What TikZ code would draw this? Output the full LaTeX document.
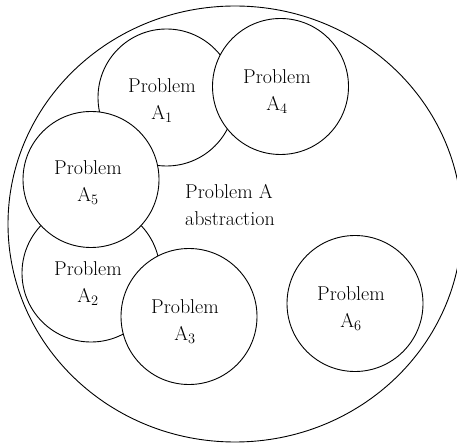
\documentclass[tikz,border=0pt]{standalone}
\usetikzlibrary{shapes.geometric}
\begin{document}
\begin{tikzpicture}[x=1pt,y=-1pt,
  ring/.style={circle,draw,fill=white,line width=0.9pt,inner sep=0pt,outer sep=0pt},
  tag/.style={align=center,font=\fontsize{20}{27}\selectfont,inner sep=0pt}]
  \useasboundingbox (0,0) rectangle (457,443);
  % enclosing abstraction
  \node[ellipse,draw,line width=0.9pt,minimum width=454pt,minimum height=436pt,inner sep=0pt] (outer) at (235,224) {};
  % sub-problems, stacked so later ones cover earlier ones
  \node[ring,minimum size=137pt] (c1) at (166.5,97.5) {};
  \node[ring,minimum size=136pt] (c4) at (280.5,86.5) {};
  \node[ring,minimum size=138pt] (c2) at (91,273) {};
  \node[ring,minimum size=136pt] (c5) at (91,179.5) {};
  \node[ring,minimum size=136pt] (c3) at (189,316.5) {};
  \node[ring,minimum size=136pt] (c6) at (355,303.5) {};
  % labels
  \node[tag] (t1) at (162,101) {Problem\\A$_1$};
  \node[tag] (t4) at (277,92) {Problem\\A$_4$};
  \node[tag] (t5) at (88,183) {Problem\\A$_5$};
  \node[tag] (t2) at (88,284) {Problem\\A$_2$};
  \node[tag] (t3) at (185,322) {Problem\\A$_3$};
  \node[tag] (t6) at (351,309) {Problem\\A$_6$};
  \node[tag,align=left,anchor=west] (ta) at (185,205) {Problem A\\abstraction};
\end{tikzpicture}
\end{document}
